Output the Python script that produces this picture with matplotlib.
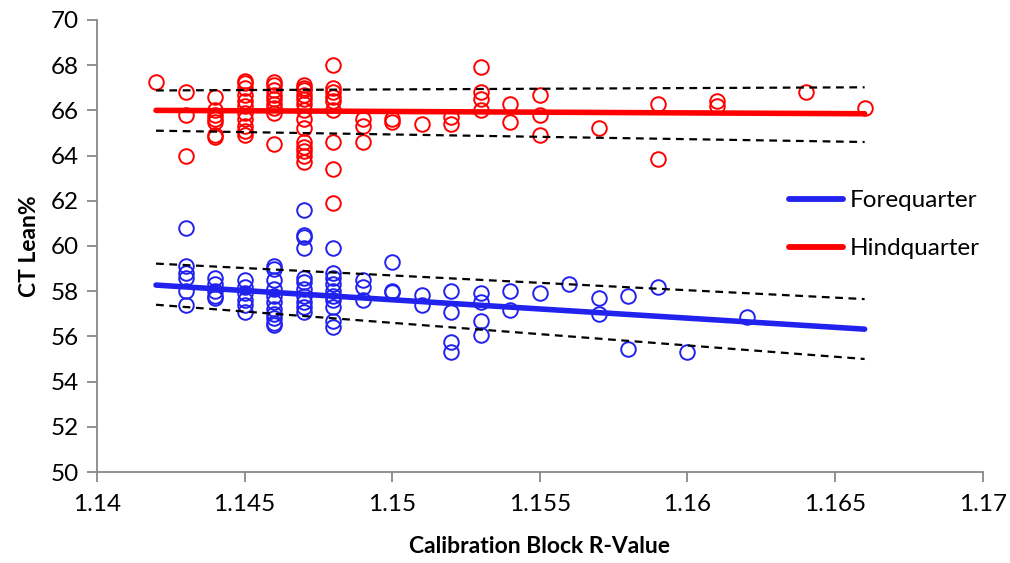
import matplotlib
matplotlib.use("Agg")
import matplotlib.pyplot as plt
from matplotlib.lines import Line2D

plt.rcParams['font.family'] = ['Lato', 'DejaVu Sans']

# Hindquarter data (x, CT Lean%)
hind_x = ([1.142] + [1.143]*3 + [1.144]*7 + [1.145]*11 + [1.146]*9 + [1.147]*14 +
          [1.148]*9 + [1.149]*3 + [1.150]*2 + [1.151] + [1.152]*2 + [1.153]*4 +
          [1.154]*2 + [1.155]*3 + [1.157] + [1.159]*2 + [1.161]*2 + [1.164] + [1.166])
hind_y = ([67.25] +
          [66.8, 65.8, 64.0] +
          [66.6, 66.0, 65.8, 65.6, 65.5, 64.9, 64.8] +
          [67.3, 67.2, 67.0, 66.7, 66.4, 66.2, 65.9, 65.6, 65.3, 65.1, 64.9] +
          [67.25, 67.1, 66.9, 66.7, 66.5, 66.3, 66.1, 65.9, 64.5] +
          [67.1, 67.0, 66.9, 66.7, 66.5, 66.3, 66.0, 65.6, 65.2, 64.6, 64.4, 64.2, 64.0, 63.7] +
          [68.0, 67.0, 66.8, 66.6, 66.4, 66.0, 64.6, 63.4, 61.9] +
          [65.6, 65.3, 64.6] +
          [65.6, 65.5] +
          [65.4] +
          [65.7, 65.4] +
          [67.9, 66.8, 66.5, 66.0] +
          [66.3, 65.5] +
          [66.7, 65.8, 64.9] +
          [65.2] +
          [66.3, 63.85] +
          [66.4, 66.2] +
          [66.8] +
          [66.1])

# Forequarter data
fore_x = ([1.143]*6 + [1.144]*5 + [1.145]*6 + [1.146]*11 + [1.147]*11 + [1.148]*10 +
          [1.149]*3 + [1.150]*3 + [1.151]*2 + [1.152]*4 + [1.153]*4 + [1.154]*2 +
          [1.155] + [1.156] + [1.157]*2 + [1.158]*2 + [1.159] + [1.160] + [1.162])
fore_y = ([60.8, 59.1, 58.8, 58.6, 58.0, 57.4] +
          [58.6, 58.3, 58.0, 57.8, 57.7] +
          [58.5, 58.2, 57.9, 57.6, 57.4, 57.1] +
          [59.1, 59.0, 58.5, 58.1, 57.8, 57.5, 57.2, 57.0, 56.8, 56.6, 56.5] +
          [61.6, 60.5, 60.4, 59.9, 58.6, 58.4, 58.1, 57.8, 57.5, 57.3, 57.1] +
          [59.9, 58.8, 58.6, 58.3, 58.0, 57.8, 57.6, 57.3, 56.7, 56.4] +
          [58.5, 58.2, 57.6] +
          [59.3, 58.0, 57.95] +
          [57.85, 57.4] +
          [58.0, 57.1, 55.75, 55.3] +
          [57.9, 57.5, 56.7, 56.05] +
          [58.0, 57.15] +
          [57.9] +
          [58.3] +
          [57.7, 57.0] +
          [57.8, 55.45] +
          [58.2] +
          [55.3] +
          [56.85])

# Fitted lines and bands (endpoints)
fit_x = [1.142, 1.166]
fore_fit = [58.27, 56.32]
fore_upper = [59.22, 57.65]
fore_lower = [57.4, 55.0]
hind_fit = [66.0, 65.85]
hind_upper = [66.88, 67.02]
hind_lower = [65.1, 64.6]

x_ticks = [1.14, 1.145, 1.15, 1.155, 1.16, 1.165, 1.17]
x_tick_labels = ['1.14', '1.145', '1.15', '1.155', '1.16', '1.165', '1.17']
y_ticks = [50, 52, 54, 56, 58, 60, 62, 64, 66, 68, 70]

BLUE = '#2222ee'
RED = '#ff0000'

fig = plt.figure(figsize=(10.10, 5.63), dpi=100)
ax = fig.add_axes([0.096, 0.1616, 0.877, 0.803])

ax.plot(fore_x, fore_y, linestyle='none', marker='o', markersize=10.5,
        markerfacecolor='none', markeredgecolor=BLUE, markeredgewidth=1.4)
ax.plot(hind_x, hind_y, linestyle='none', marker='o', markersize=10.5,
        markerfacecolor='none', markeredgecolor=RED, markeredgewidth=1.4)

ax.plot(fit_x, fore_fit, color=BLUE, linewidth=4.0, solid_capstyle='round')
ax.plot(fit_x, hind_fit, color=RED, linewidth=4.0, solid_capstyle='round')
for band in (fore_upper, fore_lower, hind_upper, hind_lower):
    ax.plot(fit_x, band, color='black', linewidth=1.6, linestyle=(0, (3.5, 2.5)))

ax.set_xlim(1.14, 1.17)
ax.set_ylim(50, 70)
ax.set_xticks(x_ticks)
ax.set_xticklabels(x_tick_labels)
ax.set_yticks(y_ticks)

for side in ('top', 'right'):
    ax.spines[side].set_visible(False)
for side in ('left', 'bottom'):
    ax.spines[side].set_color('#888888')
    ax.spines[side].set_linewidth(1.3)
ax.tick_params(axis='both', direction='out', length=7, width=1.3, color='#888888',
               labelsize=17.5, labelcolor='black')
ax.tick_params(axis='y', pad=6)
ax.tick_params(axis='x', pad=9)

ax.set_xlabel('Calibration Block R-Value', fontsize=16.5, fontweight='bold', labelpad=15)
ax.set_ylabel('CT Lean%', fontsize=16.5, fontweight='bold', labelpad=8)

handles = [Line2D([0], [0], color=BLUE, linewidth=4.2, solid_capstyle='round'),
           Line2D([0], [0], color=RED, linewidth=4.2, solid_capstyle='round')]
ax.legend(handles, ['Forequarter', 'Hindquarter'], loc='center left',
          bbox_to_anchor=(0.757, 0.547), frameon=False, fontsize=17.5,
          handlelength=2.2, handletextpad=0.3, labelspacing=1.1)

fig.savefig('out.png', dpi=100)
